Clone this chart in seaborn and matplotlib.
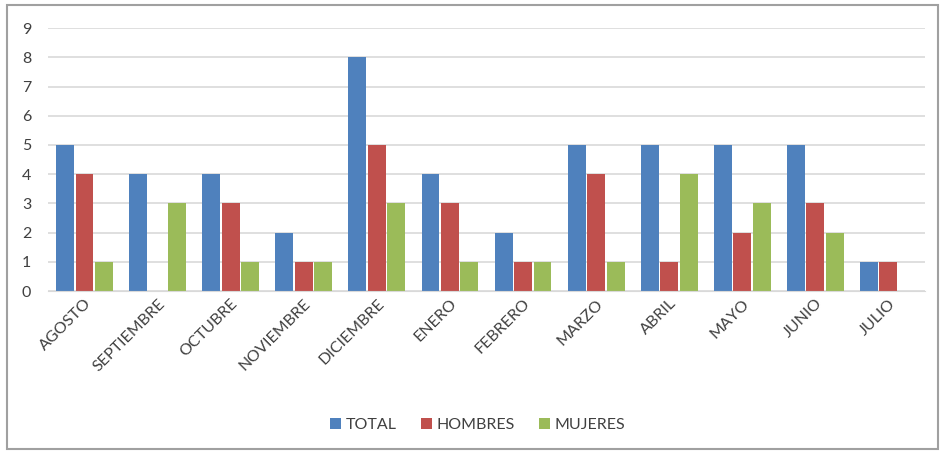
import pandas as pd
import matplotlib.pyplot as plt
import seaborn as sns
from matplotlib.patches import Rectangle

meses = ['AGOSTO', 'SEPTIEMBRE', 'OCTUBRE', 'NOVIEMBRE', 'DICIEMBRE', 'ENERO',
         'FEBRERO', 'MARZO', 'ABRIL', 'MAYO', 'JUNIO', 'JULIO']
total = [5, 4, 4, 2, 8, 4, 2, 5, 5, 5, 5, 1]
hombres = [4, 0, 3, 1, 5, 3, 1, 4, 1, 2, 3, 1]
mujeres = [1, 3, 1, 1, 3, 1, 1, 1, 4, 3, 2, 0]
series = ['TOTAL', 'HOMBRES', 'MUJERES']
colores = ['#4F81BD', '#C0504D', '#9BBB59']

df = pd.DataFrame({'Mes': meses, 'TOTAL': total, 'HOMBRES': hombres, 'MUJERES': mujeres})
df_long = df.melt(id_vars='Mes', var_name='Serie', value_name='Valor')

sns.set_style('white')
plt.rcParams['font.family'] = ['Lato', 'DejaVu Sans']

fig = plt.figure(figsize=(9.41, 4.54), dpi=100)
ax = fig.add_axes([0.051, 0.359, 0.932, 0.579])

sns.barplot(data=df_long, x='Mes', y='Valor', hue='Serie', hue_order=series,
            palette=colores, order=meses, width=0.8, gap=0.08, ax=ax,
            saturation=1, linewidth=0, legend=True)

ax.set_ylim(0, 9)
ax.set_yticks(range(0, 10))
ax.set_xlim(-0.5, len(meses) - 0.5)
ax.yaxis.grid(True, color='#D9D9D9', linewidth=1.2)
ax.set_axisbelow(True)
for s in ['top', 'right', 'left']:
    ax.spines[s].set_visible(False)
ax.spines['bottom'].set_color('#D9D9D9')
ax.tick_params(axis='both', length=0, labelsize=11.5, colors='#404040')
ax.tick_params(axis='y', pad=12)
ax.tick_params(axis='x', pad=4)
plt.setp(ax.get_xticklabels(), rotation=45, ha='right', rotation_mode='anchor')
ax.set_xlabel('')
ax.set_ylabel('')

ax.legend(loc='center', bbox_to_anchor=(0.49, -0.51), ncol=3, frameon=False,
          fontsize=11.5, handlelength=0.7, handleheight=0.7, columnspacing=1.5,
          handletextpad=0.3, labelcolor='#404040')

fig.patches.append(Rectangle((0.007, 0.01), 0.99, 0.978, transform=fig.transFigure,
                             fill=False, edgecolor='#A0A0A0', linewidth=1.5))

fig.savefig('out.png', dpi=100)
